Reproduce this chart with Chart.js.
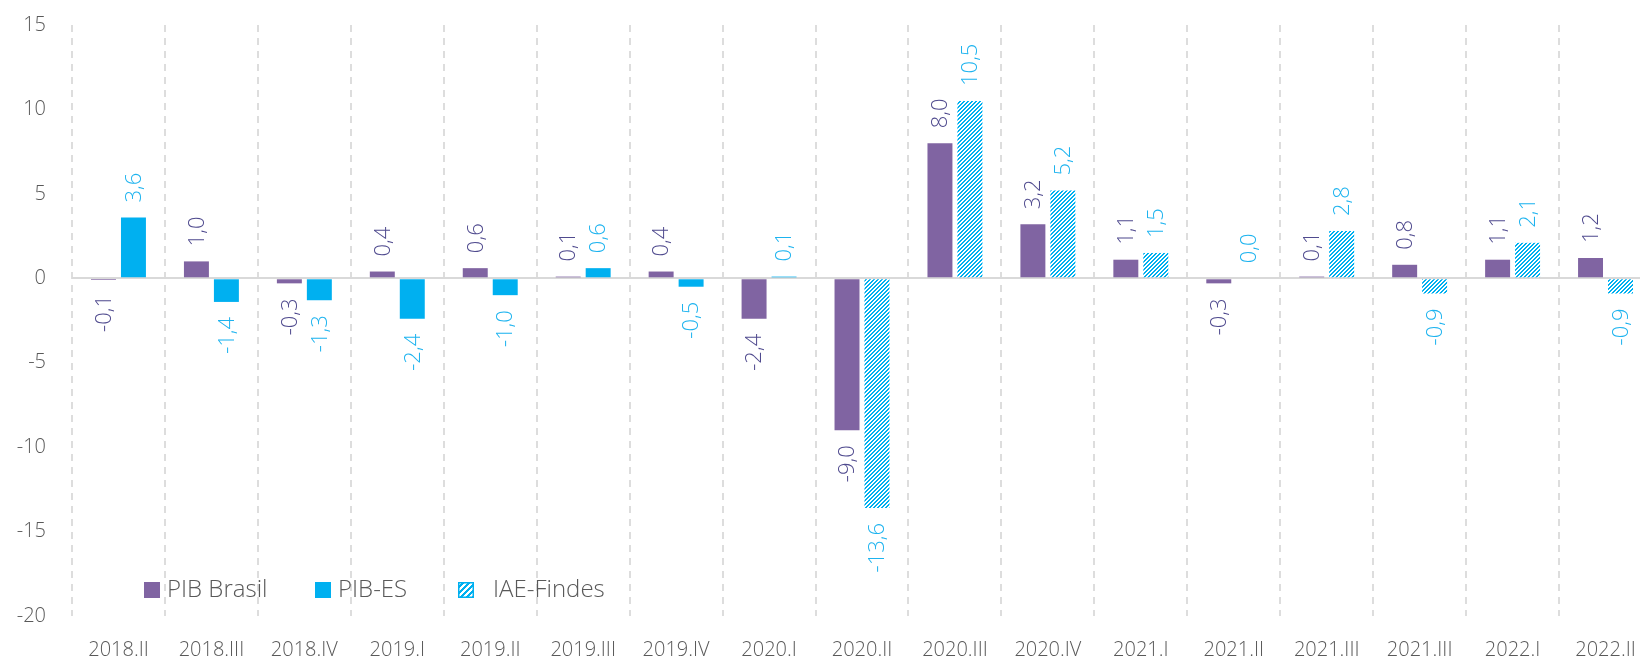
<!DOCTYPE html>
<html>
<head>
<meta charset="utf-8">
<script src="https://cdn.jsdelivr.net/npm/chart.js@4"></script>
<style>
  html, body { margin: 0; padding: 0; background: #fff; overflow: hidden; }
  #wrap { position: relative; width: 1680px; height: 660px; }
</style>
</head>
<body>
<div id="wrap"><canvas id="c"></canvas></div>
<script>
const categories = ['2018.II','2018.III','2018.IV','2019.I','2019.II','2019.III','2019.IV','2020.I','2020.II','2020.III','2020.IV','2021.I','2021.II','2021.III','2021.III','2022.I','2022.II'];
const pibBrasil = [-0.1, 1.0, -0.3, 0.4, 0.6, 0.1, 0.4, -2.4, -9.0, 8.0, 3.2, 1.1, -0.3, 0.1, 0.8, 1.1, 1.2];
const pibES     = [3.6, -1.4, -1.3, -2.4, -1.0, 0.6, -0.5, 0.1, null, null, null, null, null, null, null, null, null];
const iaeFindes = [null, null, null, null, null, null, null, null, -13.6, 10.5, 5.2, 1.5, 0.0, 2.8, -0.9, 2.1, -0.9];
const seriesNames = ['PIB Brasil', 'PIB-ES', 'IAE-Findes'];
const yTicks = [-20, -15, -10, -5, 0, 5, 10, 15];

const PURPLE = '#8064A2';
const CYAN = '#00B0F0';
const FONT = "'Open Sans', 'Noto Sans', sans-serif";

function makeHatch(size, stripe) {
  const c = document.createElement('canvas');
  c.width = size; c.height = size;
  const g = c.getContext('2d');
  g.fillStyle = '#fff';
  g.fillRect(0, 0, size, size);
  g.fillStyle = CYAN;
  for (let x = 0; x < size; x++) {
    for (let y = 0; y < size; y++) {
      if (((x + y) % size) < stripe) g.fillRect(x, y, 1, 1);
    }
  }
  return c;
}
const ctx = document.getElementById('c').getContext('2d');
const hatch = ctx.createPattern(makeHatch(4, 2), 'repeat');
const hatchLegend = ctx.createPattern(makeHatch(6, 3), 'repeat');

const fmt = v => v.toFixed(1).replace('.', ',').replace('-0,0', '0,0');

const labelPlugin = {
  id: 'barLabels',
  afterDatasetsDraw(chart) {
    const c = chart.ctx;
    const colors = ['#4F4A8E', '#1DB3EF', '#1DB3EF'];
    chart.data.datasets.forEach((ds, di) => {
      const meta = chart.getDatasetMeta(di);
      meta.data.forEach((el, i) => {
        const v = ds.data[i];
        if (v === null || v === undefined) return;
        c.save();
        c.font = `300 22px ${FONT}`;
        c.fillStyle = colors[di];
        c.textBaseline = 'middle';
        const gap = 15;
        c.translate(el.x + 1, v >= 0 ? el.y - gap : el.y + gap);
        c.rotate(-Math.PI / 2);
        c.textAlign = v >= 0 ? 'left' : 'right';
        c.fillText(fmt(v), 0, 0);
        c.restore();
      });
    });
  }
};

const legendPlugin = {
  id: 'customLegend',
  afterDraw(chart) {
    const c = chart.ctx;
    const items = [
      { name: seriesNames[0], sx: 144, tx: 167, fill: PURPLE },
      { name: seriesNames[1], sx: 315, tx: 338, fill: CYAN },
      { name: seriesNames[2], sx: 458, tx: 493, fill: hatchLegend, border: CYAN }
    ];
    const cy = 590;
    c.save();
    items.forEach(it => {
      c.fillStyle = it.fill;
      c.fillRect(it.sx, cy - 8, 16, 16);
      if (it.border) {
        c.strokeStyle = it.border;
        c.lineWidth = 1.5;
        c.strokeRect(it.sx + 0.75, cy - 7.25, 14.5, 14.5);
      }
      c.fillStyle = '#595959';
      c.font = `300 24px ${FONT}`;
      c.textAlign = 'left';
      c.textBaseline = 'middle';
      c.fillText(it.name, it.tx, cy);
    });
    c.restore();
  }
};

new Chart(ctx, {
  type: 'bar',
  data: {
    labels: categories,
    datasets: [
      { label: seriesNames[0], data: pibBrasil, backgroundColor: PURPLE, skipNull: true },
      { label: seriesNames[1], data: pibES, backgroundColor: CYAN, skipNull: true },
      { label: seriesNames[2], data: iaeFindes, backgroundColor: hatch, skipNull: true }
    ]
  },
  options: {
    responsive: true,
    maintainAspectRatio: false,
    animation: false,
    categoryPercentage: 0.645,
    barPercentage: 0.833,
    layout: { padding: { left: 0, right: 28, top: 25, bottom: 0 } },
    plugins: {
      legend: { display: false },
      tooltip: { enabled: false }
    },
    scales: {
      x: {
        offset: true,
        grid: { display: true, offset: true, color: '#DDDDDD', lineWidth: 2, drawTicks: false },
        border: { display: false, dash: [7, 6] },
        ticks: { color: '#595959', font: { family: FONT, size: 20, weight: '300' }, maxRotation: 0, autoSkip: false, padding: 22 },
        afterFit(scale) { scale.height = 44; }
      },
      y: {
        min: -20, max: 15,
        afterBuildTicks(scale) { scale.ticks = yTicks.map(v => ({ value: v })); },
        grid: {
          drawTicks: false,
          color: c => (c.tick && c.tick.value === 0) ? '#D9D9D9' : 'rgba(0,0,0,0)',
          lineWidth: 2
        },
        border: { display: false },
        ticks: { color: '#595959', font: { family: FONT, size: 20, weight: '300' }, padding: 26 },
        afterFit(scale) { scale.width = 72; scale.paddingTop = 0; scale.paddingBottom = 0; }
      }
    }
  },
  plugins: [labelPlugin, legendPlugin]
});
</script>
</body>
</html>
